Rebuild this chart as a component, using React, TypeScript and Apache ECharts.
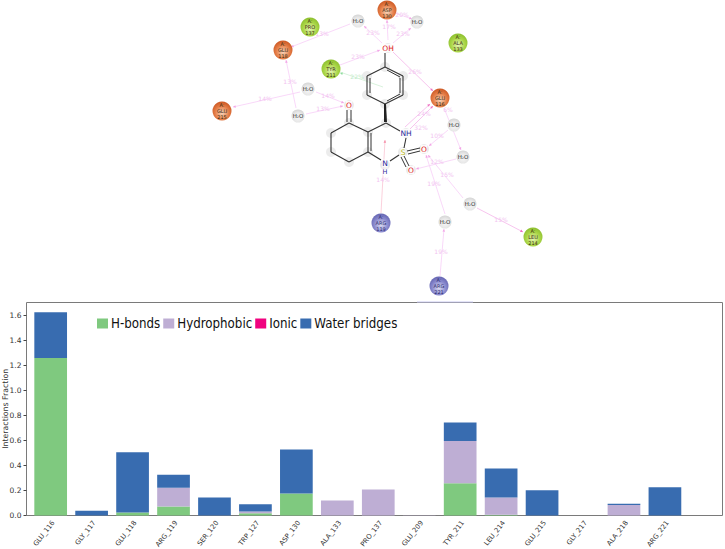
import React, { useEffect, useRef } from "react";
import * as echarts from "echarts";

const categories = ["GLU_116","GLY_117","GLU_118","ARG_119","SER_120","TRP_127","ASP_130","ALA_133","PRO_137","GLU_209","TYR_211","LEU_214","GLU_215","GLY_217","ALA_218","ARG_221"];
const hBonds =      [1.257,0,0.024,0.072,0,0.018,0.176,0,0,0,0.258,0.005,0,0,0,0];
const hydrophobic = [0,0,0,0.149,0,0.014,0,0.12,0.208,0.002,0.336,0.139,0,0,0.083,0];
const ionic =       [0,0,0,0,0,0,0,0,0,0,0,0,0,0,0,0];
const waterBridges =[0.367,0.037,0.482,0.104,0.144,0.058,0.351,0,0,0,0.149,0.231,0.202,0,0.01,0.226];
const yTicks = [0,0.2,0.4,0.6,0.8,1.0,1.2,1.4,1.6];

const FONT = "DejaVu Sans";
const GREEN = "#7fc97f", PURPLE = "#beaed4", PINK = "#f0027f", BLUE = "#386cb0";

// Ligand-interaction diagram above the plot
type Res = [string, string, string, number, number];
const residues: Res[] = [
  ["PRO","137","g",310,27],["GLU","118","o",283,50],["TYR","211","g",331,69],["GLU","215","o",222,111],
  ["ASP","130","o",387,10],["ALA","133","g",458,43],["GLU","116","o",440,98],["ARG","119","b",381,223],
  ["LEU","214","g",533,237],["ARG","221","b",439,286],
];
const waters = [[358,21],[417,22],[308,89],[298,116],[454,125],[463,157],[445,222],[470,204]];
const atomsHalo = [[385,67],[403,76],[403,95],[385,104],[367,95],[367,76],[386,123],[368,132],[368,152],[349,123],[331,133],[331,152],[349,162],[349,105],[388,48],[406,133],[385,165],[403,152],[424,149],[411,170]];
const bonds = [[385,67,403,76],[403,76,403,95],[403,95,385,104],[385,104,367,95],[367,95,367,76],[367,76,385,67],[385,67,385,53],
  [386,123,368,132],[368,132,368,152],[368,152,381,160],[349,123,368,132],[349,123,331,133],[331,133,331,152],[331,152,349,162],[349,162,368,152],
  [386,123,400,131],[406,138,404,148],[399,155,390,161]];
const doubleBonds = [[387,70,400,77],[400,78,400,93],[387,101,400,94],[370,93,370,78],[371,133,371,151],[347,110,347,122],[351,110,351,122],[407,151,420,148],[408,154,420,151],[404,156,409,166],[401,157,406,167]];
const LINKC = "#f8d4f8", LINKD = "#f6bdec", LINKR = "#fbcbd8";
const links: [number,number,number,number,string,string,number,number,string][] = [
  [350,24,291,47,"13%","",322,33,LINKC],[382,43,364,26,"23%","",373,32,LINKC],[340,65,380,50,"23%","",358,56,LINKC],
  [296,108,286,60,"13%","",290,81,LINKC],[300,92,233,107,"14%","",265,98,LINKC],[316,92,344,103,"14%","",328,95,LINKC],
  [306,114,343,106,"13%","",323,108,LINKC],[388,40,387,20,"17%","",389,26,LINKC],[393,43,411,28,"23%","",403,33,LINKC],
  [395,13,412,19,"20%","",402,14,LINKC],[393,52,433,91,"26%","",415,71,LINKD],[410,129,433,106,"24%","",424,113,LINKD],
  [405,127,430,104,"32%","",421,127,LINKD],[444,108,461,150,"6%","",448,109,LINKC],[463,198,428,155,"15%","",447,174,LINKC],
  [445,214,426,155,"19%","",434,183,LINKC],[456,159,416,169,"12%","",437,161,LINKC],[448,130,429,146,"10%","",437,135,LINKC],
  [477,208,523,232,"15%","",501,219,LINKD],[440,276,444,229,"19%","",441,251,LINKC],[381,213,385,140,"14%","",383,179,LINKR],
];

function arrow(x1:number,y1:number,x2:number,y2:number,color:string){
  const a = Math.atan2(y2-y1,x2-x1), s=3;
  return {type:"polygon",silent:true,shape:{points:[[x2,y2],[x2-s*Math.cos(a-0.45),y2-s*Math.sin(a-0.45)],[x2-s*Math.cos(a+0.45),y2-s*Math.sin(a+0.45)]]},style:{fill:color}};
}
const seg=(p:number[],stroke:string,w:number)=>({type:"line",silent:true,shape:{x1:p[0],y1:p[1],x2:p[2],y2:p[3]},style:{stroke,lineWidth:w}});
const label=(x:number,y:number,text:string,size:number,fill:string)=>({type:"text",silent:true,x,y,style:{text,font:`${size}px '${FONT}'`,fill,align:"center",verticalAlign:"middle"}});
const radial=(a:string,b:string,c:string)=>({type:"radial",x:0.5,y:0.6,r:0.6,colorStops:[{offset:0,color:a},{offset:0.6,color:b},{offset:1,color:c}]});

function diagram(){
  const out:any[]=[];
  atomsHalo.forEach(p=>out.push({type:"circle",silent:true,shape:{cx:p[0],cy:p[1],r:5},style:{fill:"#ececec"}}));
  links.forEach(l=>{
    out.push(seg([l[0],l[1],l[2],l[3]],l[8],0.9));
    out.push(arrow(l[0],l[1],l[2],l[3],l[8]===LINKD?"#ee6fc0":l[8]===LINKR?"#f58aa5":"#f2a6e6"));
    out.push(label(l[6],l[7],l[4],6,"#f2c4f0"));
  });
  out.push(seg([340,72,383,87],"#d4f0d8",0.9));
  out.push(arrow(383,87,340,73,"#8fdc9f"));
  out.push(label(357,76,"22%",6,"#c0eac8"));
  bonds.forEach(b=>out.push(seg(b,"#333333",1.1)));
  doubleBonds.forEach(b=>out.push(seg(b,"#333333",1)));
  out.push({type:"polygon",silent:true,shape:{points:[[384,104],[386,104],[387,122],[384,122]]},style:{fill:"#222"}});
  waters.forEach(w=>{
    out.push({type:"circle",silent:true,shape:{cx:w[0],cy:w[1],r:6.5},style:{fill:radial("#f6f6f6","#e8e8e8","#d4d4d4")}});
    out.push(label(w[0],w[1],"H₂O",5.5,"#222"));
  });
  residues.forEach(r=>{
    const fill = r[2]==="o"?radial("#f8d6bc","#e57e48","#cc5722"):r[2]==="g"?radial("#e6f5b4","#aad647","#8cbf2e"):radial("#dcdcf2","#8a8ace","#6464b2");
    const txt = r[2]==="b"?"#2a2a70":"#3a2a10";
    out.push({type:"circle",silent:true,shape:{cx:r[3],cy:r[4],r:9.5},style:{fill}});
    out.push(label(r[3],r[4]-6,"A:",5,txt));
    out.push(label(r[3],r[4],r[0],5,txt));
    out.push(label(r[3],r[4]+6,r[1],5,txt));
  });
  const atomText=(x:number,y:number,t:string,c:string,s=7.5)=>out.push({type:"text",silent:true,x,y,style:{text:t,font:`${s}px '${FONT}'`,fill:c,align:"center",verticalAlign:"middle",backgroundColor:"rgba(255,255,255,0.8)"}});
  atomText(388,48,"OH","#e02020");
  atomText(349,105,"O","#e02020");
  atomText(424,149,"O","#e02020");
  atomText(411,170,"O","#e02020");
  atomText(406,133,"NH","#2c2c9c");
  atomText(385,163.5,"N","#2c2c9c");
  atomText(385,172,"H","#2c2c9c",6.5);
  atomText(403,152,"S","#b8b820");
  out.push(seg([417,302,473,302],"#c8c8f0",1));
  return out;
}

export default function App(){
  const ref = useRef<HTMLDivElement>(null);
  useEffect(()=>{
    const chart = echarts.init(ref.current!, undefined, {renderer:"svg"});
    const mk=(name:string,data:number[],color:string)=>({name,type:"bar",stack:"total",data,barWidth:32.7,itemStyle:{color},emphasis:{disabled:true}});
    chart.setOption({
      animation:false,
      backgroundColor:"#ffffff",
      grid:{left:30.2,top:302,width:655.2,height:213.5,containLabel:false,outerBoundsMode:"none"},
      legend:{left:92,top:312,padding:5,itemWidth:11,itemHeight:10,itemGap:3,icon:"rect",
        textStyle:{fontFamily:"DejaVu Sans Condensed, DejaVu Sans",fontSize:13.2,color:"#111",padding:[0,0,0,-2]},
        data:["H-bonds","Hydrophobic","Ionic","Water bridges"]},
      xAxis:{type:"category",data:categories,
        axisLine:{show:false},
        axisTick:{alignWithLabel:true,length:3,lineStyle:{color:"#444",width:1}},
        axisLabel:{rotate:52,fontFamily:FONT,fontSize:6.8,color:"#333",margin:4,interval:0,verticalAlign:"top"}},
      yAxis:{type:"value",min:0,max:1.705,offset:3.7,
        name:"Interactions Fraction",nameLocation:"middle",nameGap:17.5,nameMoveOverlap:false,
        nameTextStyle:{fontFamily:FONT,fontSize:7.8,color:"#333"},
        splitLine:{show:false},
        axisLine:{show:false},
        axisTick:{show:true,length:3,customValues:yTicks,lineStyle:{color:"#444",width:1}},
        axisLabel:{customValues:yTicks,formatter:(v:number)=>v.toFixed(1),fontFamily:FONT,fontSize:7.5,color:"#333",margin:5}},
      series:[mk("H-bonds",hBonds,GREEN),mk("Hydrophobic",hydrophobic,PURPLE),mk("Ionic",ionic,PINK),mk("Water bridges",waterBridges,BLUE)],
      graphic:[{type:"group",silent:true,children:[
        {type:"rect",shape:{x:26.5,y:302.5,width:696,height:213},style:{fill:"none",stroke:"#7a7a7a",lineWidth:1}},
        ...diagram(),
      ]}],
    });
    return ()=>chart.dispose();
  },[]);
  return <div ref={ref} style={{position:"absolute",left:0,top:0,width:725,height:549}}/>;
}
